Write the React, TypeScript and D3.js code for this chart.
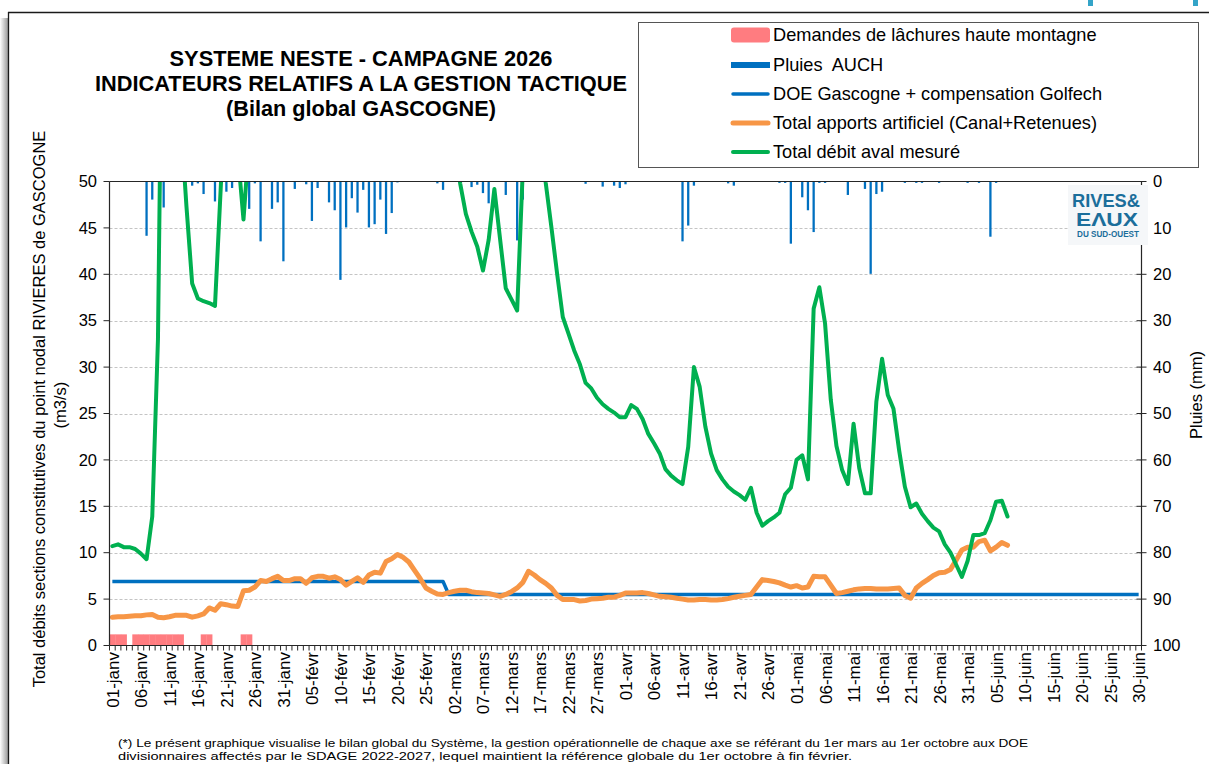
import * as d3 from "d3";

const FONT = "'Liberation Sans', Arial, Helvetica, sans-serif";

// categories: one per day, 01-janv .. 30-juin
const months: [string, number][] = [
  ["janv", 31], ["févr", 28], ["mars", 31], ["avr", 30], ["mai", 31], ["juin", 30],
];
const days: string[] = months.flatMap(([m, n]) =>
  d3.range(1, n + 1).map((d) => String(d).padStart(2, "0") + "-" + m)
);

// Total débit aval mesuré (m3/s), from 01-janv
const debitAval = [
  10.7, 10.9, 10.6, 10.6, 10.4, 9.9, 9.3, 13.9, 33.0, 85.0,
  90.0, 80.0, 56.6, 47.3, 39.0, 37.4, 37.1, 36.9, 36.6, 49.2,
  62.0, 58.0, 53.0, 45.9, 54.4, 60, 65, 70, 75, 72,
  68, 70, 74, 78, 76, 72, 70, 75, 80, 78,
  74, 70, 68, 72, 76, 80, 85, 82, 78, 74,
  70, 68, 66, 64, 66, 68, 70, 66, 62, 58,
  55, 49.8, 46.5, 44.6, 43.0, 40.4, 43.7, 49.2, 43.8, 38.5,
  37.3, 36.1, 51.5, 70, 75, 58, 49.9, 45.1, 40.1, 35.4,
  33.6, 31.8, 30.3, 28.3, 27.7, 26.7, 26.0, 25.5, 25.1, 24.6,
  24.6, 25.9, 25.5, 24.4, 22.8, 21.8, 20.7, 19.0, 18.3, 17.8,
  17.4, 21.4, 30.0, 27.9, 23.6, 20.7, 18.9, 17.9, 17.1, 16.6,
  16.2, 15.7, 17.0, 14.3, 12.9, 13.4, 13.8, 14.3, 16.3, 17.0,
  20.0, 20.5, 17.9, 36.3, 38.6, 34.7, 26.5, 21.5, 18.9, 17.4,
  23.9, 19.1, 16.4, 16.4, 26.3, 30.9, 27.0, 25.5, 21.0, 17.1,
  14.9, 15.3, 14.2, 13.4, 12.7, 12.3, 10.9, 10.0, 8.7, 7.4,
  9.1, 11.9, 11.9, 12.1, 13.5, 15.5, 15.6, 13.9,
];

// Total apports artificiel (Canal+Retenues), from 01-janv
const apports = [
  3.05, 3.1, 3.1, 3.15, 3.2, 3.2, 3.3, 3.35, 3.05, 3.0,
  3.1, 3.25, 3.25, 3.25, 3.05, 3.2, 3.4, 4.05, 3.8, 4.5,
  4.4, 4.25, 4.2, 5.9, 5.95, 6.3, 7.0, 6.9, 7.2, 7.45,
  7.0, 7.0, 7.2, 7.2, 6.7, 7.3, 7.45, 7.45, 7.25, 7.4,
  7.1, 6.5, 6.9, 7.3, 6.8, 7.6, 7.9, 7.8, 9.05, 9.35,
  9.8, 9.5, 9.0, 8.1, 7.2, 6.2, 5.85, 5.55, 5.5, 5.7,
  5.85, 5.95, 5.95, 5.8, 5.7, 5.65, 5.6, 5.45, 5.3, 5.5,
  5.8, 6.2, 6.8, 8.0, 7.6, 7.1, 6.7, 6.2, 5.4, 4.95,
  4.95, 4.95, 4.8, 4.85, 5.0, 5.05, 5.1, 5.2, 5.2, 5.4,
  5.65, 5.65, 5.65, 5.7, 5.6, 5.45, 5.3, 5.25, 5.2, 5.1,
  5.0, 4.9, 4.9, 4.95, 4.95, 4.9, 4.9, 4.95, 5.05, 5.2,
  5.3, 5.4, 5.5, 6.3, 7.1, 7.0, 6.9, 6.75, 6.5, 6.3,
  6.45, 6.2, 6.3, 7.45, 7.4, 7.4, 6.5, 5.6, 5.7, 5.85,
  6.0, 6.1, 6.15, 6.15, 6.1, 6.1, 6.1, 6.15, 6.2, 5.4,
  5.1, 6.2, 6.7, 7.1, 7.55, 7.85, 7.9, 8.2, 9.2, 10.3,
  10.6, 10.6, 11.2, 11.35, 10.2, 10.6, 11.1, 10.8,
];

// DOE Gascogne + compensation Golfech (m3/s)
const doeSteps = [
  { from: "01-janv", to: "28-févr", value: 6.9 },
  { from: "01-mars", to: "30-juin", value: 5.5 },
];

// Pluies AUCH (mm)
const pluies: [string, number][] = [
  ["07-janv", 11.7], ["08-janv", 3.9], ["10-janv", 5.6], ["15-janv", 0.9], ["16-janv", 0.4],
  ["17-janv", 2.7], ["19-janv", 4.3], ["21-janv", 2.2], ["22-janv", 1.4], ["25-janv", 5.9],
  ["26-janv", 0.4], ["27-janv", 12.9], ["29-janv", 5.9], ["30-janv", 4.5], ["31-janv", 17.2],
  ["02-févr", 1.6], ["04-févr", 0.6], ["05-févr", 8.5], ["06-févr", 1.4], ["08-févr", 4.5],
  ["09-févr", 6.2], ["10-févr", 21.2], ["11-févr", 9.9], ["12-févr", 3.6], ["13-févr", 6.7],
  ["14-févr", 1.8], ["15-févr", 9.9], ["16-févr", 9.2], ["17-févr", 3.9], ["18-févr", 11.3],
  ["19-févr", 6.8], ["20-févr", 0.2], ["27-févr", 0.4], ["28-févr", 1.8], ["05-mars", 1.2],
  ["06-mars", 0.7], ["07-mars", 2.5], ["08-mars", 4.7], ["11-mars", 2.9], ["13-mars", 12.7],
  ["14-mars", 3.9], ["25-mars", 0.5], ["28-mars", 1.1], ["30-mars", 0.9], ["31-mars", 1.4],
  ["01-avr", 0.6], ["11-avr", 12.9], ["12-avr", 9.5], ["13-avr", 0.9], ["19-avr", 0.4],
  ["20-avr", 0.9], ["28-avr", 0.3], ["29-avr", 0.3], ["30-avr", 13.4], ["02-mai", 3.4],
  ["03-mai", 6.2], ["04-mai", 10.9], ["05-mai", 0.3], ["06-mai", 0.3], ["10-mai", 2.9],
  ["13-mai", 1.6], ["14-mai", 19.9], ["15-mai", 2.7], ["16-mai", 2.2], ["20-mai", 0.3],
  ["22-mai", 0.3], ["23-mai", 0.3], ["26-mai", 0.3], ["31-mai", 0.3], ["02-juin", 0.3],
  ["04-juin", 11.9], ["05-juin", 0.3],
];

// Demandes de lâchures haute montagne
const demandes = [
  "01-janv", "02-janv", "03-janv", "05-janv", "06-janv", "07-janv", "08-janv", "09-janv",
  "10-janv", "11-janv", "12-janv", "13-janv", "17-janv", "18-janv", "24-janv", "25-janv",
];
const DEMANDE_LEVEL = 1.2;

const yTicksLeft = [0, 5, 10, 15, 20, 25, 30, 35, 40, 45, 50];
const yTicksRight = [0, 10, 20, 30, 40, 50, 60, 70, 80, 90, 100];

const titleLines = [
  "SYSTEME NESTE - CAMPAGNE 2026",
  "INDICATEURS RELATIFS A LA GESTION TACTIQUE",
  "(Bilan global GASCOGNE)",
];
const titleWidths = [383, 532, 270];
const footnote = [
  "(*) Le présent graphique visualise le bilan global du Système, la gestion opérationnelle de chaque axe se référant du 1er mars au 1er octobre aux DOE",
  "divisionnaires affectés par le SDAGE 2022-2027, lequel maintient la référence globale du 1er octobre à fin février.",
];
const footWidths = [910, 734];

const C = {
  pink: "#FF7C80",
  rain: "#0070C0",
  doe: "#0070C0",
  orange: "#F79646",
  green: "#00B050",
  axis: "#262626",
  grid: "#c4c4c4",
  logo: "#1b6e9b",
};

export default function App() {
  const left = 109.5, right = 1141.5, top = 181.5, bottom = 645.5;

  const x = d3.scaleBand<string>().domain(days).range([left, right]).padding(0);
  const xBar = d3.scaleBand<string>().domain(days).range([left, right]).paddingInner(0.6).paddingOuter(0.3);
  const cx = (d: string) => (x(d) as number) + x.bandwidth() / 2;
  const yL = d3.scaleLinear().domain([0, 50]).range([bottom, top]);
  const yR = d3.scaleLinear().domain([0, 100]).range([top, bottom]);

  const doe = days.map((d, i) => {
    const s = doeSteps.find((st) => i >= days.indexOf(st.from) && i <= days.indexOf(st.to));
    return s ? s.value : null;
  });

  const line = d3
    .line<number | null>()
    .defined((v) => v != null)
    .x((_, i) => cx(days[i]))
    .y((v) => yL(v as number));

  const tickLabels = days.filter((_, i) => i % 5 === 0);

  const legendItems = [
    { label: "Demandes de lâchures haute montagne", kind: "pink" },
    { label: "Pluies  AUCH", kind: "rain" },
    { label: "DOE Gascogne + compensation Golfech", kind: "doe" },
    { label: "Total apports artificiel (Canal+Retenues)", kind: "orange" },
    { label: "Total débit aval mesuré", kind: "green" },
  ];
  const legendY = [35, 65, 94, 123, 152];

  return (
    <svg
      width={1209}
      height={764}
      style={{ position: "absolute", left: 0, top: 0, background: "#fff" }}
      fontFamily={FONT}
    >
      <defs>
        <linearGradient id="shadow" x1="0" x2="1" y1="0" y2="0">
          <stop offset="0" stopColor="#ffffff" />
          <stop offset="1" stopColor="#9a9a9a" />
        </linearGradient>
        <clipPath id="plotClip">
          <rect x={left} y={top} width={right - left} height={bottom - top} />
        </clipPath>
      </defs>

      {/* frame + shadow */}
      <rect x={0} y={18} width={8} height={746} fill="url(#shadow)" />
      <line x1={8} x2={1209} y1={12.5} y2={12.5} stroke="#1a1a1a" strokeWidth={1.3} />
      <line x1={8.5} x2={8.5} y1={12} y2={764} stroke="#1a1a1a" strokeWidth={1.3} />
      <rect x={1088} y={0} width={5} height={6} fill="#34a4c8" />
      <rect x={1193} y={0} width={5} height={6} fill="#34a4c8" />

      {/* title */}
      {titleLines.map((t, i) => (
        <text
          key={t}
          x={361}
          y={66 + i * 25}
          textAnchor="middle"
          fontWeight="bold"
          fontSize={21.5}
          fill="#000"
          textLength={titleWidths[i]}
          lengthAdjust="spacingAndGlyphs"
        >
          {t}
        </text>
      ))}

      {/* legend */}
      <rect x={638.5} y={22.5} width={560} height={145} fill="#fff" stroke="#555" strokeWidth={1} />
      {legendItems.map((it, i) => {
        const yy = legendY[i];
        let sw;
        if (it.kind === "pink") sw = <rect x={731} y={yy - 7.5} width={39} height={15} rx={3} fill={C.pink} />;
        else if (it.kind === "rain") sw = <rect x={731} y={yy - 3} width={39} height={6} fill={C.rain} />;
        else {
          const col = it.kind === "doe" ? C.doe : it.kind === "orange" ? C.orange : C.green;
          const w = it.kind === "doe" ? 3.5 : it.kind === "orange" ? 5 : 4;
          sw = <line x1={733} x2={768} y1={yy} y2={yy} stroke={col} strokeWidth={w} strokeLinecap="round" />;
        }
        return (
          <g key={it.label}>
            {sw}
            <text x={773} y={yy} dy="0.35em" fontSize={18.2} fill="#000" style={{ whiteSpace: "pre" }}>
              {it.label}
            </text>
          </g>
        );
      })}

      {/* grid */}
      {yTicksLeft.filter((t) => t > 0 && t < 50).map((t) => (
        <line
          key={t}
          x1={left}
          x2={right}
          y1={Math.round(yL(t)) + 0.5}
          y2={Math.round(yL(t)) + 0.5}
          stroke={C.grid}
          strokeDasharray="3,2"
          strokeWidth={1}
        />
      ))}

      <g clipPath="url(#plotClip)">
        {/* demandes */}
        {demandes.map((d) => (
          <rect
            key={d}
            x={x(d)}
            y={yL(DEMANDE_LEVEL)}
            width={x.bandwidth() + 0.3}
            height={yL(0) - yL(DEMANDE_LEVEL)}
            fill={C.pink}
          />
        ))}
        {/* pluies */}
        {pluies.map(([d, v]) => (
          <rect key={d} x={xBar(d)} y={yR(0)} width={xBar.bandwidth()} height={yR(v) - yR(0)} fill={C.rain} />
        ))}
        <path d={line(doe) || ""} fill="none" stroke={C.doe} strokeWidth={3.5} strokeLinejoin="round" />
        <path d={line(apports) || ""} fill="none" stroke={C.orange} strokeWidth={5} strokeLinejoin="round" strokeLinecap="round" />
        <path d={line(debitAval) || ""} fill="none" stroke={C.green} strokeWidth={4} strokeLinejoin="round" strokeLinecap="round" />
      </g>

      {/* axes */}
      <line x1={left} x2={right} y1={top} y2={top} stroke={C.axis} strokeWidth={1.2} />
      <line x1={left} x2={right} y1={bottom} y2={bottom} stroke={C.axis} strokeWidth={1.2} />
      <line x1={left} x2={left} y1={top} y2={bottom} stroke={C.axis} strokeWidth={1.2} />
      <line x1={right} x2={right} y1={top} y2={bottom} stroke={C.axis} strokeWidth={1.2} />
      {days.concat(["end"]).map((d, i) => {
        const xx = left + i * x.step();
        return <line key={"t" + i} x1={xx} x2={xx} y1={bottom} y2={bottom + 5} stroke={C.axis} strokeWidth={1} />;
      })}
      {yTicksLeft.map((t) => (
        <g key={"l" + t}>
          <line x1={left - 6} x2={left} y1={yL(t)} y2={yL(t)} stroke={C.axis} strokeWidth={1} />
          <text x={97} y={yL(t)} dy="0.35em" textAnchor="end" fontSize={16.5} fill="#000">
            {t}
          </text>
        </g>
      ))}
      {yTicksRight.map((t) => (
        <g key={"r" + t}>
          <line x1={right - 5} x2={right + 5} y1={yR(t)} y2={yR(t)} stroke={C.axis} strokeWidth={1} />
          <text x={1153} y={yR(t)} dy="0.35em" textAnchor="start" fontSize={16.5} fill="#000">
            {t}
          </text>
        </g>
      ))}
      {tickLabels.map((d) => (
        <text
          key={d}
          transform={`translate(${cx(d) + 0.5},${652}) rotate(-90)`}
          textAnchor="end"
          dy="0.35em"
          fontSize={17}
          fill="#000"
        >
          {d}
        </text>
      ))}

      {/* logo */}
      <rect x={1068} y={185} width={80} height={60} fill="#f5f7f9" />
      <text x={1072} y={207} fontSize={18.5} fontWeight="bold" fill={C.logo} textLength={68} lengthAdjust="spacingAndGlyphs">
        RIVES&amp;
      </text>
      <text x={1076} y={226} fontSize={19} fontWeight="bold" fill={C.logo} textLength={62} lengthAdjust="spacingAndGlyphs">
        EΛUX
      </text>
      <text x={1077} y={237} fontSize={8.5} fontWeight="bold" fill={C.logo} textLength={62} lengthAdjust="spacingAndGlyphs">
        DU SUD-OUEST
      </text>

      {/* axis titles */}
      <text transform="translate(39,409) rotate(-90)" textAnchor="middle" dy="0.35em" fontSize={16.5} fill="#000">
        Total débits sections constitutives du point nodal RIVIERES de GASCOGNE
      </text>
      <text transform="translate(60,405) rotate(-90)" textAnchor="middle" dy="0.35em" fontSize={16.5} fill="#000">
        (m3/s)
      </text>
      <text transform="translate(1196,395) rotate(-90)" textAnchor="middle" dy="0.35em" fontSize={16.5} fill="#000">
        Pluies (mm)
      </text>

      {/* footnote */}
      {footnote.map((t, i) => (
        <text
          key={i}
          x={118}
          y={747 + i * 13}
          fontSize={11.5}
          fill="#000"
          textLength={footWidths[i]}
          lengthAdjust="spacingAndGlyphs"
        >
          {t}
        </text>
      ))}
    </svg>
  );
}
